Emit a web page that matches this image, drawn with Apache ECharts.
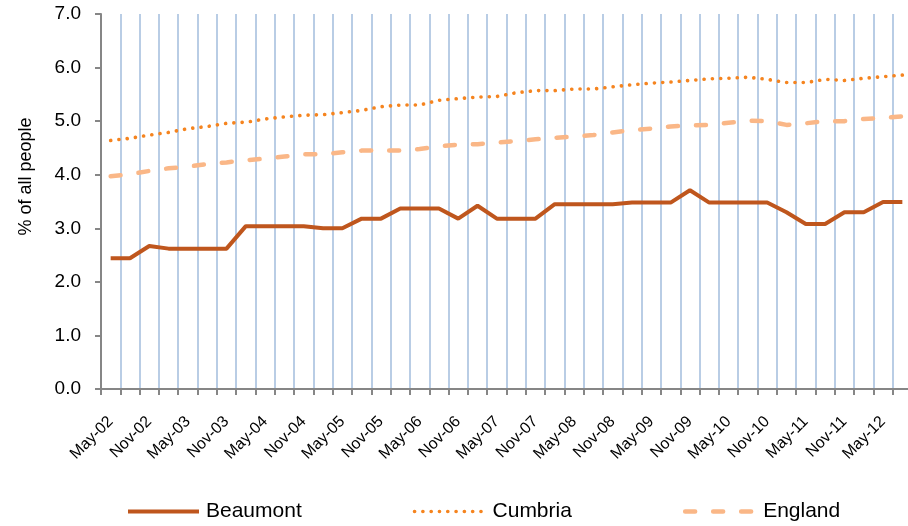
<!DOCTYPE html>
<html>
<head>
<meta charset="utf-8">
<script src="https://cdn.jsdelivr.net/npm/echarts@6/dist/echarts.min.js"></script>
<style>
html,body{margin:0;padding:0;background:#fff;}
#chart{width:908px;height:526px;}
</style>
</head>
<body>
<div id="chart"></div>
<script>
const categories = ["May-02","Aug-02","Nov-02","Feb-03","May-03","Aug-03","Nov-03","Feb-04","May-04","Aug-04","Nov-04","Feb-05","May-05","Aug-05","Nov-05","Feb-06","May-06","Aug-06","Nov-06","Feb-07","May-07","Aug-07","Nov-07","Feb-08","May-08","Aug-08","Nov-08","Feb-09","May-09","Aug-09","Nov-09","Feb-10","May-10","Aug-10","Nov-10","Feb-11","May-11","Aug-11","Nov-11","Feb-12","May-12","Aug-12"];
const beaumont = [2.44,2.44,2.67,2.62,2.62,2.62,2.62,3.04,3.04,3.04,3.04,3.00,3.00,3.18,3.18,3.37,3.37,3.37,3.18,3.42,3.18,3.18,3.18,3.45,3.45,3.45,3.45,3.48,3.48,3.48,3.71,3.48,3.48,3.48,3.48,3.30,3.08,3.08,3.30,3.30,3.49,3.49];
const cumbria = [4.64,4.68,4.74,4.79,4.86,4.90,4.96,4.98,5.04,5.08,5.11,5.12,5.16,5.20,5.27,5.30,5.30,5.39,5.42,5.45,5.46,5.53,5.57,5.57,5.60,5.60,5.64,5.68,5.71,5.73,5.76,5.79,5.80,5.82,5.78,5.72,5.72,5.78,5.76,5.80,5.83,5.86];
const england = [3.97,4.01,4.07,4.12,4.15,4.20,4.23,4.27,4.30,4.34,4.38,4.38,4.42,4.45,4.45,4.45,4.48,4.53,4.56,4.57,4.60,4.63,4.66,4.69,4.71,4.74,4.79,4.83,4.86,4.90,4.92,4.93,4.97,5.01,5.00,4.93,4.96,5.00,5.00,5.04,5.06,5.09];
const yTicks = [0,1,2,3,4,5,6,7];

const FONT = "'Liberation Sans', Arial, sans-serif";
const COLORS = {Beaumont: '#BF561D', Cumbria: '#F5841F', England: '#FAB787'};
const chart = echarts.init(document.getElementById('chart'), null, {renderer:'canvas'});
chart.setOption({
  animation: false,
  backgroundColor: '#ffffff',
  grid: {left: 101, top: 14, width: 811, height: 375, containLabel: false, outerBoundsMode: 'none'},
  legend: {
    left: 121, top: 496,
    itemWidth: 71, itemHeight: 14, itemGap: 111,
    itemStyle: {opacity: 0},
    textStyle: {fontFamily: FONT, fontSize: 21, color: '#000', padding: [0,0,0,2]},
    data: [
      {name: 'Beaumont', itemStyle: {opacity: 0}, lineStyle: {color: COLORS.Beaumont, width: 4, type: 'solid'}},
      {name: 'Cumbria', itemStyle: {opacity: 0}, lineStyle: {color: COLORS.Cumbria, width: 3.6, type: [0.1, 8.2], cap: 'round'}},
      {name: 'England', itemStyle: {opacity: 0}, lineStyle: {color: COLORS.England, width: 4.5, type: [10, 18], cap: 'round'}}
    ]
  },
  xAxis: {
    type: 'category',
    data: categories,
    boundaryGap: true,
    axisLine: {lineStyle: {color: '#868686', width: 2}},
    axisTick: {show: true, interval: 0, length: 6, lineStyle: {color: '#868686', width: 2}},
    axisLabel: {interval: 1, rotate: 45, margin: 30, fontFamily: FONT, fontSize: 16, color: '#000'},
    splitLine: {show: true, interval: 0, lineStyle: {color: '#B9CDE5', width: 2}}
  },
  yAxis: {
    type: 'value',
    min: yTicks[0], max: yTicks[yTicks.length-1], interval: 1,
    name: '% of all people',
    nameLocation: 'middle',
    nameRotate: 90,
    nameGap: 66,
    nameTextStyle: {fontFamily: FONT, fontSize: 18, color: '#000', padding: [0,0,0,50]},
    axisLine: {show: true, lineStyle: {color: '#868686', width: 2}},
    axisTick: {show: true, length: 6, lineStyle: {color: '#868686', width: 2}},
    axisLabel: {formatter: v => v.toFixed(1), margin: 20, fontFamily: FONT, fontSize: 19, color: '#000'},
    splitLine: {show: false}
  },
  series: [
    {
      name: 'England', type: 'line', data: england, showSymbol: false, symbol: 'none', z: 2,
      itemStyle: {color: COLORS.England},
      lineStyle: {color: COLORS.England, width: 4.5, type: [10, 18], cap: 'round'}
    },
    {
      name: 'Cumbria', type: 'line', data: cumbria, showSymbol: false, symbol: 'none', z: 3,
      itemStyle: {color: COLORS.Cumbria},
      lineStyle: {color: COLORS.Cumbria, width: 3.6, type: [0.1, 8.2], cap: 'round'}
    },
    {
      name: 'Beaumont', type: 'line', data: beaumont, showSymbol: false, symbol: 'none', z: 4,
      itemStyle: {color: COLORS.Beaumont},
      lineStyle: {color: COLORS.Beaumont, width: 4}
    }
  ]
});
</script>
</body>
</html>
